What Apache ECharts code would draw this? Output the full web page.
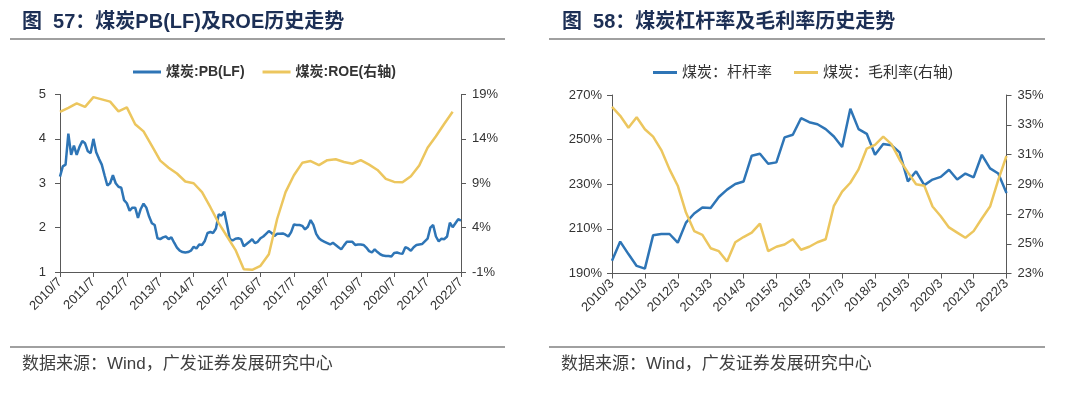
<!DOCTYPE html>
<html>
<head>
<meta charset="utf-8">
<script src="https://cdn.jsdelivr.net/npm/echarts@6/dist/echarts.min.js"></script>
<style>
html,body{margin:0;padding:0;background:#fff;}
#c{width:1080px;height:394px;}
</style>
</head>
<body>
<div id="c"></div>
<script>
// ---------- Left chart: 煤炭PB(LF) (monthly from 2010/7) and ROE (quarterly from 2010/7) ----------
const leftTickLabels = ['2010/7','2011/7','2012/7','2013/7','2014/7','2015/7','2016/7','2017/7','2018/7','2019/7','2020/7','2021/7','2022/7'];
const pbMonthly = [
  3.15,3.38,3.42,4.12,3.64,3.85,3.64,3.82,3.95,3.90,3.72,3.68,
  4.00,3.70,3.55,3.42,3.18,2.95,3.00,3.18,3.00,2.92,2.90,2.62,
  2.55,2.38,2.45,2.45,2.22,2.42,2.54,2.45,2.25,2.10,2.06,1.76,
  1.74,1.78,1.80,1.74,1.78,1.66,1.55,1.48,1.45,1.44,1.45,1.48,
  1.57,1.53,1.62,1.61,1.70,1.88,1.90,1.88,1.98,2.30,2.27,2.36,
  2.06,1.74,1.71,1.75,1.76,1.74,1.58,1.63,1.68,1.74,1.65,1.68,
  1.76,1.80,1.86,1.92,1.88,1.81,1.86,1.86,1.87,1.84,1.80,1.90,
  2.07,2.06,2.06,2.04,1.96,2.02,2.17,2.06,1.86,1.76,1.71,1.68,
  1.65,1.62,1.66,1.61,1.56,1.51,1.60,1.68,1.68,1.68,1.61,1.62,
  1.62,1.61,1.55,1.47,1.44,1.51,1.45,1.40,1.37,1.36,1.36,1.35,
  1.43,1.44,1.42,1.41,1.56,1.53,1.48,1.56,1.61,1.62,1.63,1.69,
  1.75,2.00,2.06,1.80,1.69,1.75,1.74,1.80,2.11,2.01,2.10,2.19,
  2.16
];
const roeQuarterly = [
  17.05,17.5,18.0,17.6,18.7,18.45,18.2,17.1,17.55,15.65,14.85,13.2,
  11.55,10.75,10.1,9.2,9.0,8.0,6.3,4.5,3.0,1.5,-0.7,-0.75,
  -0.3,1.0,5.0,8.0,9.9,11.3,11.5,11.05,11.6,11.7,11.4,11.2,
  11.6,11.1,10.5,9.5,9.15,9.1,9.8,11.0,13.0,14.3,15.7,17.05
];
const pbTicks = [1,2,3,4,5];
const roeTicks = [-1,4,9,14,19];

// ---------- Right chart: 杠杆率 and 毛利率 (quarterly from 2010/3) ----------
const rightTickLabels = ['2010/3','2011/3','2012/3','2013/3','2014/3','2015/3','2016/3','2017/3','2018/3','2019/3','2020/3','2021/3','2022/3'];
const leverage = [
  195.7,204.3,198.7,193.4,192.2,207.1,207.7,207.7,203.8,212.8,216.9,219.6,
  219.4,224.3,227.6,230.1,231.2,242.8,243.7,239.2,239.8,251.0,252.2,259.6,
  257.8,256.9,254.7,251.4,246.7,263.8,254.7,252.6,243.2,248.0,247.5,244.3,
  231.3,235.8,229.6,232.1,233.3,236.5,232.1,234.8,233.1,243.2,237.1,234.8,
  226.1
];
const grossMargin = [
  34.2,33.6,32.8,33.5,32.7,32.2,31.3,30.0,28.9,27.1,25.85,25.6,
  24.7,24.5,23.8,25.1,25.45,25.75,26.35,24.5,24.8,24.95,25.3,24.6,
  24.8,25.1,25.3,27.55,28.5,29.1,30.0,31.4,31.65,32.2,31.7,30.65,
  29.8,29.0,28.9,27.5,26.85,26.1,25.75,25.4,25.85,26.7,27.5,29.3,
  30.9
];
const levTicks = [190,210,230,250,270];
const gmTicks = [23,25,27,29,31,33,35];

const quarterCats = [];
for (let y = 2010; y <= 2022; y++) {
  for (const m of [3,6,9,12]) {
    if (y === 2022 && m > 3) break;
    quarterCats.push(y + '/' + m);
  }
}

const BLUE = '#2e75b6';
const GOLD = '#ecc65e';
const AXIS = '#595959';
const FONT = "'Liberation Sans','Noto Sans CJK SC',sans-serif";
const TXT = '#333333';

function yAx(gi, pos, min, max, ticks, fmt, margin) {
  return {
    type: 'value', gridIndex: gi, position: pos, min: min, max: max,
    axisLine: {show: true, lineStyle: {color: AXIS, width: 1}},
    axisTick: {show: true, length: 5, lineStyle: {color: AXIS}, customValues: ticks},
    axisLabel: {customValues: ticks, formatter: fmt, color: TXT, fontSize: 13, fontFamily: FONT, margin: margin},
    splitLine: {show: false}
  };
}

const chart = echarts.init(document.getElementById('c'), null, {renderer: 'canvas'});
chart.setOption({
  animation: false,
  backgroundColor: '#ffffff',
  textStyle: {fontFamily: FONT},
  grid: [
    {left: 60, right: 619, top: 94.5, bottom: 122},
    {left: 612, right: 73.5, top: 95, bottom: 120.5}
  ],
  legend: [
    {
      left: 128, top: 60, itemWidth: 28, itemHeight: 3, itemGap: 18, icon: 'rect',
      data: ['煤炭:PB(LF)', '煤炭:ROE(右轴)'],
      textStyle: {fontSize: 14, fontWeight: 'bold', color: TXT, fontFamily: FONT}
    },
    {
      left: 648, top: 60, itemWidth: 24, itemHeight: 3, itemGap: 22, icon: 'rect',
      data: ['煤炭：杆杆率', '煤炭：毛利率(右轴)'],
      textStyle: {fontSize: 15, color: TXT, fontFamily: FONT}
    }
  ],
  xAxis: [
    {
      type: 'value', gridIndex: 0, min: 0, max: 144, interval: 12,
      axisLine: {show: true, onZero: false, lineStyle: {color: AXIS}},
      axisTick: {show: true, length: 5, lineStyle: {color: AXIS}},
      axisLabel: {rotate: 45, fontSize: 13, color: TXT, fontFamily: FONT, margin: 8,
        formatter: v => leftTickLabels[Math.round(v / 12)]},
      splitLine: {show: false}
    },
    {
      type: 'category', gridIndex: 1, data: quarterCats, boundaryGap: false,
      axisLine: {show: true, onZero: false, lineStyle: {color: AXIS}},
      axisTick: {show: true, length: 5, interval: 3, lineStyle: {color: AXIS}},
      axisLabel: {rotate: 45, interval: 3, fontSize: 13, color: TXT, fontFamily: FONT, margin: 8},
      splitLine: {show: false}
    }
  ],
  yAxis: [
    yAx(0, 'left', 1, 5, pbTicks, v => String(v), 14),
    yAx(0, 'right', -1, 19, roeTicks, v => v + '%', 11),
    yAx(1, 'left', 190, 270, levTicks, v => v + '%', 10),
    yAx(1, 'right', 23, 35, gmTicks, v => v + '%', 11)
  ],
  series: [
    {
      name: '煤炭:PB(LF)', type: 'line', xAxisIndex: 0, yAxisIndex: 0,
      data: pbMonthly.map((v, i) => [i, v]),
      showSymbol: false, symbol: 'none', lineStyle: {color: BLUE, width: 2.5}, itemStyle: {color: BLUE}
    },
    {
      name: '煤炭:ROE(右轴)', type: 'line', xAxisIndex: 0, yAxisIndex: 1,
      data: roeQuarterly.map((v, i) => [i * 3, v]),
      showSymbol: false, symbol: 'none', lineStyle: {color: GOLD, width: 2.5}, itemStyle: {color: GOLD}
    },
    {
      name: '煤炭：杆杆率', type: 'line', xAxisIndex: 1, yAxisIndex: 2,
      data: leverage,
      showSymbol: false, symbol: 'none', lineStyle: {color: BLUE, width: 2.5}, itemStyle: {color: BLUE}
    },
    {
      name: '煤炭：毛利率(右轴)', type: 'line', xAxisIndex: 1, yAxisIndex: 3,
      data: grossMargin,
      showSymbol: false, symbol: 'none', lineStyle: {color: GOLD, width: 2.5}, itemStyle: {color: GOLD}
    }
  ],
  graphic: [
    {type: 'text', left: 22, top: 12, style: {text: '图  57：煤炭PB(LF)及ROE历史走势', fontSize: 20, fontWeight: 'bold', fill: '#1c2f55', fontFamily: FONT}},
    {type: 'text', left: 562, top: 12, style: {text: '图  58：煤炭杠杆率及毛利率历史走势', fontSize: 20, fontWeight: 'bold', fill: '#1c2f55', fontFamily: FONT}},
    {type: 'line', shape: {x1: 10, y1: 39, x2: 505, y2: 39}, style: {stroke: '#808080', lineWidth: 1.5}},
    {type: 'line', shape: {x1: 549, y1: 39, x2: 1045, y2: 39}, style: {stroke: '#808080', lineWidth: 1.5}},
    {type: 'line', shape: {x1: 10, y1: 347, x2: 505, y2: 347}, style: {stroke: '#808080', lineWidth: 1.5}},
    {type: 'line', shape: {x1: 549, y1: 347, x2: 1045, y2: 347}, style: {stroke: '#808080', lineWidth: 1.5}},
    {type: 'text', left: 22, top: 356, style: {text: '数据来源：Wind，广发证券发展研究中心', fontSize: 17, fill: '#404040', fontFamily: FONT}},
    {type: 'text', left: 561, top: 356, style: {text: '数据来源：Wind，广发证券发展研究中心', fontSize: 17, fill: '#404040', fontFamily: FONT}}
  ]
});
</script>
</body>
</html>
